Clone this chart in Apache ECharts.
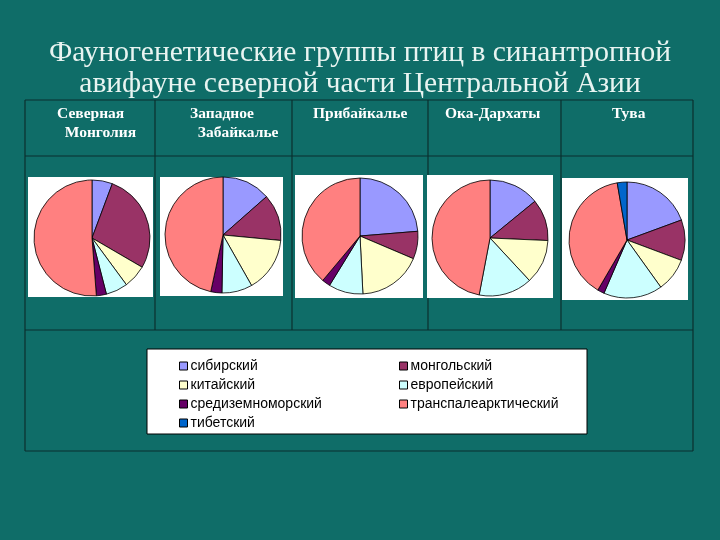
<!DOCTYPE html>
<html><head><meta charset="utf-8">
<script src="https://cdn.jsdelivr.net/npm/echarts@6/dist/echarts.min.js"></script>
<style>html,body{margin:0;padding:0;background:#0f6d68;}#c{width:720px;height:540px;}</style>
</head><body><div id="c"></div>
<script>
const titleText = 'Фауногенетические группы птиц в синантропной\nавифауне северной части Центральной Азии';
const regions = ['Северная\n  Монголия', 'Западное\n  Забайкалье', 'Прибайкалье', 'Ока-Дархаты', 'Тува'];
const groups = ['сибирский', 'монгольский', 'китайский', 'европейский', 'средиземноморский', 'транспалеарктический', 'тибетский'];
const groupColors = ['#9999FF', '#993366', '#FFFFCC', '#CCFFFF', '#660066', '#FF8080', '#0066CC'];
// percent shares per region, in group order
const severnayaMongolia = [5.7, 27.7, 6.5, 6.1, 2.8, 51.2, 0];
const zapadnoeZabaikalie = [13.5, 13.0, 15.3, 8.5, 3.1, 46.6, 0];
const pribaikalie = [23.7, 7.7, 17.8, 9.6, 2.3, 38.9, 0];
const okaDarkhaty = [14.1, 11.6, 12.4, 14.9, 0, 47.0, 0];
const tuva = [19.4, 11.3, 9.4, 16.4, 1.9, 38.9, 2.7];
const regionValues = [severnayaMongolia, zapadnoeZabaikalie, pribaikalie, okaDarkhaty, tuva];

const chart = echarts.init(document.getElementById('c'));
const boxes = [[28,177,125,120],[160,177,123,119],[295,175,128,123],[427,175,126,123],[562,178,126,122]];
const centers = [[92,238],[223,235],[360,236],[490,238],[627,240]];
const headerPos = [[57,104],[190,104],[313,104],[445,104],[612,104]];
const colX = [25,155,292,428,561,693];

const graphics = [];
const lineStyle = {stroke:'#0b2f2e', lineWidth:1.2};
[100,156,330,451].forEach(y=>graphics.push({type:'line',z:1,shape:{x1:25,y1:y,x2:693,y2:y},style:lineStyle}));
colX.forEach((x,i)=>{
  if(i===0||i===colX.length-1) graphics.push({type:'line',z:1,shape:{x1:x,y1:100,x2:x,y2:451},style:lineStyle});
  else graphics.push({type:'line',z:1,shape:{x1:x,y1:100,x2:x,y2:330},style:lineStyle});
});
boxes.forEach(b=>graphics.push({type:'rect',z:1,shape:{x:b[0],y:b[1],width:b[2],height:b[3]},style:{fill:'#ffffff'}}));
regions.forEach((r,i)=>graphics.push({type:'text',z:2,x:headerPos[i][0],y:headerPos[i][1],style:{text:r,fill:'#ffffff',font:'bold 15.5px "Liberation Serif", serif',lineHeight:19}}));
graphics.push({type:'rect',z:1,shape:{x:147,y:349,width:440,height:85},style:{fill:'#ffffff',stroke:'#000000',lineWidth:1}});

const series = regionValues.map((vals,ri)=>({
  type:'pie', name:regions[ri].replace(/\s+/g,' '),
  center:centers[ri], radius:58, startAngle:90, clockwise:true,
  label:{show:false}, labelLine:{show:false}, silent:true, animation:false,
  itemStyle:{borderColor:'#000000', borderWidth:0.8},
  data: groups.map((g,gi)=>({name:g, value:vals[gi], itemStyle:{color:groupColors[gi]}})).filter(d=>d.value>0)
}));

const legendBase = {orient:'vertical', itemWidth:8, itemHeight:8, itemGap:5,
  textStyle:{fontFamily:'"Liberation Sans", Arial, sans-serif', fontSize:14, color:'#000000', padding:[0,0,0,-2]},
  itemStyle:{borderColor:'#000000', borderWidth:1}, icon:'rect', selectedMode:false};

chart.setOption({
  backgroundColor:'#0f6d68',
  title:{text:titleText, left:'center', top:33, textStyle:{fontFamily:'"Liberation Serif", serif', fontWeight:'normal', fontSize:29.5, lineHeight:31, color:'#e8f4f1'}},
  graphic:graphics,
  legend:[
    Object.assign({}, legendBase, {left:174, top:354, data:['сибирский','китайский','средиземноморский','тибетский']}),
    Object.assign({}, legendBase, {left:394, top:354, data:['монгольский','европейский','транспалеарктический']})
  ],
  series:series
});
</script></body></html>
